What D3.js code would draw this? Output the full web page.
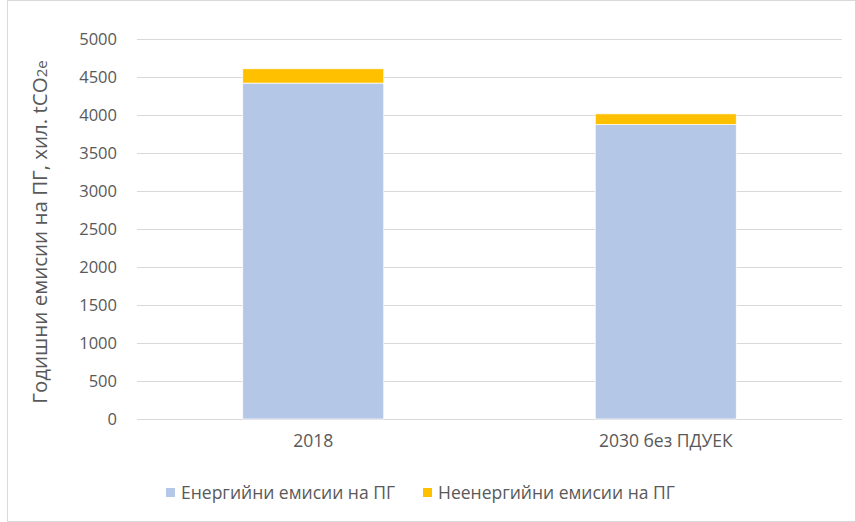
<!DOCTYPE html>
<html>
  <head>
    <meta charset="utf-8">
    <style>
      body { margin: 0; background: #fff; }
      text { font-family: "Open Sans", "Noto Sans", sans-serif; fill: #595959; }
    </style>
  </head>
  <body>
    <script src="https://cdn.jsdelivr.net/npm/d3@7"></script>
    <script type="text/javascript">

      const categories = ['2018', '2030 без ПДУЕК'];
      const energy = [4420, 3875];
      const nonEnergy = [188, 140];
      const seriesNames = ['Енергийни емисии на ПГ', 'Неенергийни емисии на ПГ'];
      const yTicks = [0, 500, 1000, 1500, 2000, 2500, 3000, 3500, 4000, 4500, 5000];

      const width = 855;
      const height = 522;
      const colors = ['#b4c7e7', '#ffc000'];

      const svg = d3.select('body')
        .append('svg')
        .attr('width', width)
        .attr('height', height);

      // chart border
      svg.append('rect')
        .attr('x', 7.5)
        .attr('y', 0.5)
        .attr('width', 852)
        .attr('height', 521)
        .attr('fill', 'none')
        .attr('stroke', '#d9d9d9');

      const x = d3.scaleBand()
        .domain(categories)
        .range([137, 842])
        .paddingInner(0.6)
        .paddingOuter(0.3);

      const y = d3.scaleLinear()
        .domain([0, 5000])
        .range([419, 39]);

      // gridlines
      svg.append('g')
        .selectAll('line')
        .data(yTicks)
        .enter()
        .append('line')
        .attr('x1', 137)
        .attr('x2', 842)
        .attr('y1', (d) => Math.round(y(d)) + 0.5)
        .attr('y2', (d) => Math.round(y(d)) + 0.5)
        .attr('stroke', '#d9d9d9')
        .attr('stroke-width', 1.2);

      const axisLeft = d3.axisLeft(y).tickValues(yTicks).tickFormat(d3.format('d')).tickSize(0).tickPadding(0);
      const gy = svg.append('g')
        .attr('transform', 'translate(117,0)')
        .call(axisLeft);
      gy.select('.domain').remove();
      gy.selectAll('text')
        .attr('font-size', 16.5)
        .attr('font-family', '"Open Sans", sans-serif')
        .attr('fill', '#595959');

      const axisBottom = d3.axisBottom(x).tickSize(0).tickPadding(0);
      const gx = svg.append('g')
        .attr('transform', 'translate(0,435)')
        .call(axisBottom);
      gx.select('.domain').remove();
      gx.selectAll('text')
        .attr('font-size', 17.5)
        .attr('font-family', '"Open Sans", sans-serif')
        .attr('fill', '#595959');

      const stacked = d3.stack().keys([0, 1])(categories.map((c, i) => [energy[i], nonEnergy[i]]));

      svg.append('g')
        .selectAll('g')
        .data(stacked)
        .enter()
        .append('g')
        .attr('fill', (d, i) => colors[i])
        .selectAll('rect')
        .data((d) => d)
        .enter()
        .append('rect')
        .attr('x', (d, i) => x(categories[i]))
        .attr('width', x.bandwidth())
        .attr('y', (d) => y(d[1]))
        .attr('height', (d) => y(d[0]) - y(d[1]))
        .attr('stroke', '#fff')
        .attr('stroke-width', 0.7);

      // y axis title
      svg.append('text')
        .attr('transform', 'translate(47,232) rotate(-90)')
        .attr('text-anchor', 'middle')
        .attr('font-size', 20.5)
        .attr('fill', '#595959')
        .text('Годишни емисии на ПГ, хил. tCO')
        .append('tspan')
        .attr('font-size', 15)
        .text('2e');

      // legend
      const legendX = [166, 423];
      const legend = svg.append('g')
        .selectAll('g')
        .data(seriesNames)
        .enter()
        .append('g')
        .attr('transform', (d, i) => `translate(${legendX[i]},0)`);
      legend.append('rect')
        .attr('x', 0)
        .attr('y', 488)
        .attr('width', 9)
        .attr('height', 9)
        .attr('fill', (d, i) => colors[i]);
      legend.append('text')
        .attr('x', 15)
        .attr('y', 499)
        .attr('font-size', 17.5)
        .attr('fill', '#595959')
        .text((d) => d);

    </script>
  </body>
</html>
